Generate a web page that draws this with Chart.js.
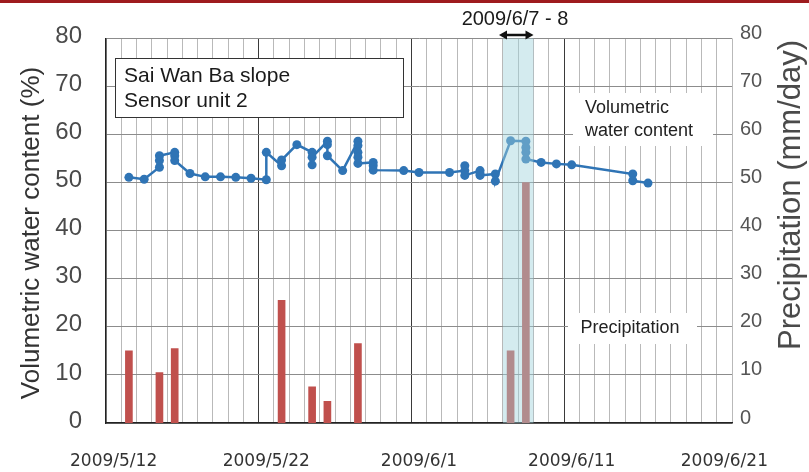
<!DOCTYPE html>
<html><head><meta charset="utf-8">
<script src="https://cdn.jsdelivr.net/npm/chart.js@4"></script>
<style>html,body{margin:0;padding:0;background:#fff;}canvas{display:block;}</style>
</head><body>
<canvas id="c" width="809" height="472"></canvas>
<script>
// ---- data (day index = days since 2009/5/12) ----
const xTickLabels = ['2009/5/12', '2009/5/22', '2009/6/1', '2009/6/11', '2009/6/21'];
const xTickDays = [0, 10, 20, 30, 40];

const wcDays = [1, 2, 3, 3, 3, 4, 4, 4, 5, 6, 7, 8, 9, 10, 10, 11, 11, 12,
  13, 13, 13, 14, 14, 14, 15, 16, 16, 16, 16, 16, 17, 17, 17, 19, 20, 22,
  23, 23, 23, 24, 24, 24, 25, 25, 26, 27, 27, 27, 27, 28, 29, 30, 34, 34, 35];
const wcValues = [51.1, 50.7, 53.2, 54.6, 55.6, 56.3, 55.6, 54.6, 51.9, 51.2, 51.2, 51.1, 50.9, 50.6, 56.3, 53.5, 54.7, 57.9,
  56.3, 53.7, 55.3, 58.6, 57.9, 55.6, 52.5, 58.6, 57.7, 56.3, 55.3, 54.0, 54.2, 53.5, 52.6, 52.5, 52.1, 52.1,
  52.5, 53.5, 51.5, 52.5, 51.8, 51.5, 51.8, 50.3, 58.7, 58.6, 57.3, 56.3, 54.9, 54.2, 53.9, 53.7, 51.8, 50.4, 49.9];

const rainDays = [1, 3, 4, 11, 13, 14, 16, 26, 27];
const rainValues = [15, 10.5, 15.5, 25.5, 7.5, 4.5, 16.5, 15, 50];

const highlightDays = [26, 27];
const highlightLabel = '2009/6/7 - 8';
const boxLines = ['Sai Wan Ba slope', 'Sensor unit 2'];
const leftTitle = 'Volumetric water content (%)';
const rightTitle = 'Precipitation (mm/day)';
const wcLabel = ['Volumetric', 'water content'];
const rainLabel = 'Precipitation';

const BLUE = '#2f74b5';
const RED = '#c0504d';

const wcPoints = wcDays.map((d, i) => ({x: d, y: wcValues[i]}));
const rainPoints = rainDays.map((d, i) => ({x: d, y: rainValues[i]}));

const decor = {
  id: 'decor',
  beforeDraw(chart) {
    const ctx = chart.ctx;
    ctx.save();
    ctx.fillStyle = '#fff';
    ctx.fillRect(0, 0, chart.width, chart.height);
    ctx.restore();
  },
  afterDatasetsDraw(chart) {
    const {ctx, chartArea: a, scales: {x}} = chart;
    ctx.save();
    // highlight band
    const bx1 = x.getPixelForValue(highlightDays[0] - 0.5);
    const bx2 = x.getPixelForValue(highlightDays[1] + 0.5);
    ctx.fillStyle = 'rgba(160,210,220,0.45)';
    ctx.fillRect(bx1, a.top, bx2 - bx1, a.bottom - a.top);

    // info box
    ctx.fillStyle = '#fff';
    ctx.fillRect(115, 58, 288, 59);
    ctx.strokeStyle = '#333';
    ctx.lineWidth = 1;
    ctx.strokeRect(115.5, 58.5, 288, 59);
    ctx.fillStyle = '#1a1a1a';
    ctx.font = '21px "Liberation Sans", Arial, sans-serif';
    ctx.textBaseline = 'alphabetic';
    ctx.textAlign = 'left';
    ctx.fillText(boxLines[0], 124, 82);
    ctx.fillText(boxLines[1], 124, 107);

    // water content label
    ctx.fillStyle = '#fff';
    ctx.fillRect(573, 93, 140, 53);
    ctx.fillStyle = '#222';
    ctx.font = '18px "Liberation Sans", Arial, sans-serif';
    ctx.textBaseline = 'middle';
    ctx.fillText(wcLabel[0], 585, 108);
    ctx.fillText(wcLabel[1], 585, 131);

    // precipitation label
    ctx.fillStyle = '#fff';
    ctx.fillRect(568, 313, 129, 31);
    ctx.fillStyle = '#222';
    ctx.font = '18px "Liberation Sans", Arial, sans-serif';
    ctx.textAlign = 'center';
    ctx.fillText(rainLabel, 630, 328);
    ctx.restore();
  },
  afterDraw(chart) {
    const {ctx, chartArea: a, scales: {x}} = chart;
    ctx.save();
    // top dark red strip
    ctx.fillStyle = '#9e1b1e';
    ctx.fillRect(0, 0, chart.width, 3);

    // arrow + date label
    const bx1 = x.getPixelForValue(highlightDays[0] - 0.5) - 4;
    const bx2 = x.getPixelForValue(highlightDays[1] + 0.5);
    const ay = 35;
    ctx.strokeStyle = '#111';
    ctx.fillStyle = '#111';
    ctx.lineWidth = 2.5;
    ctx.beginPath();
    ctx.moveTo(bx1 + 5, ay);
    ctx.lineTo(bx2 - 5, ay);
    ctx.stroke();
    ctx.beginPath();
    ctx.moveTo(bx1, ay); ctx.lineTo(bx1 + 8, ay - 4.5); ctx.lineTo(bx1 + 8, ay + 4.5); ctx.closePath(); ctx.fill();
    ctx.beginPath();
    ctx.moveTo(bx2, ay); ctx.lineTo(bx2 - 8, ay - 4.5); ctx.lineTo(bx2 - 8, ay + 4.5); ctx.closePath(); ctx.fill();
    ctx.font = '20px "Liberation Sans", Arial, sans-serif';
    ctx.textAlign = 'center';
    ctx.textBaseline = 'middle';
    ctx.fillStyle = '#1a1a1a';
    ctx.fillText(highlightLabel, 515, 19);

    // axis titles
    ctx.save();
    ctx.translate(32, 233);
    ctx.rotate(-Math.PI / 2);
    ctx.font = '26px "Liberation Sans", Arial, sans-serif';
    ctx.fillStyle = '#333';
    ctx.fillText(leftTitle, 0, 0);
    ctx.restore();

    ctx.save();
    ctx.translate(791, 195);
    ctx.rotate(-Math.PI / 2);
    ctx.font = '31px "Liberation Sans", Arial, sans-serif';
    ctx.fillStyle = '#4a4a4a';
    ctx.fillText(rightTitle, 0, 0);
    ctx.restore();
    ctx.restore();
  }
};

new Chart(document.getElementById('c'), {
  type: 'line',
  data: {
    datasets: [
      {
        type: 'line',
        label: 'Volumetric water content',
        data: wcPoints,
        xAxisID: 'x',
        yAxisID: 'y',
        borderColor: BLUE,
        backgroundColor: BLUE,
        borderWidth: 2.5,
        pointRadius: 4.5,
        pointBorderWidth: 0,
        pointBackgroundColor: BLUE,
        tension: 0,
        fill: false,
        order: 1
      },
      {
        type: 'bar',
        label: 'Precipitation',
        data: rainPoints,
        xAxisID: 'x',
        yAxisID: 'y2',
        backgroundColor: RED,
        borderWidth: 0,
        barThickness: 7,
        order: 2
      }
    ]
  },
  options: {
    responsive: false,
    animation: false,
    devicePixelRatio: 1,
    layout: {padding: {top: 37, left: 0, right: 0, bottom: 0}},
    plugins: {legend: {display: false}, tooltip: {enabled: false}, title: {display: false}},
    scales: {
      x: {
        type: 'linear',
        position: 'bottom',
        min: -0.5,
        max: 40.5,
        offset: false,
        afterBuildTicks(scale) {
          const t = [];
          for (let v = -0.5; v <= 40.5; v += 0.5) t.push({value: v});
          scale.ticks = t;
        },
        afterFit(scale) { scale.height = 49; },
        grid: {
          offset: false,
          drawTicks: false,
          lineWidth: 1,
          color(ctx) {
            const v = ctx.tick ? ctx.tick.value : 0;
            if (Number.isInteger(v)) return 'rgba(0,0,0,0)';
            const b = v + 0.5;
            if (b === 10 || b === 20 || b === 30) return '#3a3a3a';
            return '#b9b9b9';
          }
        },
        border: {display: true, color: '#222', width: 1.5},
        ticks: {
          autoSkip: false,
          maxRotation: 0,
          minRotation: 0,
          padding: 28,
          color: '#333',
          font: {family: '"DejaVu Sans", sans-serif', size: 17},
          callback(value) {
            const i = xTickDays.indexOf(value);
            return i >= 0 ? xTickLabels[i] : '';
          }
        }
      },
      y: {
        type: 'linear',
        position: 'left',
        min: 0,
        max: 80,
        afterFit(scale) { scale.width = 106; },
        grid: {color: '#8c8c8c', lineWidth: 1, drawTicks: false},
        border: {display: true, color: '#222', width: 1.5},
        ticks: {
          stepSize: 10,
          padding: 24,
          labelOffset: -2,
          color: '#4a4a4a',
          font: {family: '"Liberation Sans", Arial, sans-serif', size: 24}
        }
      },
      y2: {
        type: 'linear',
        position: 'right',
        min: 0,
        max: 80,
        afterFit(scale) { scale.width = 77; },
        grid: {display: false, drawTicks: false},
        border: {display: false},
        ticks: {
          stepSize: 10,
          padding: 8,
          labelOffset: -5,
          color: '#555',
          font: {family: '"Liberation Sans", Arial, sans-serif', size: 20}
        }
      }
    }
  },
  plugins: [decor]
});
</script>
</body></html>
